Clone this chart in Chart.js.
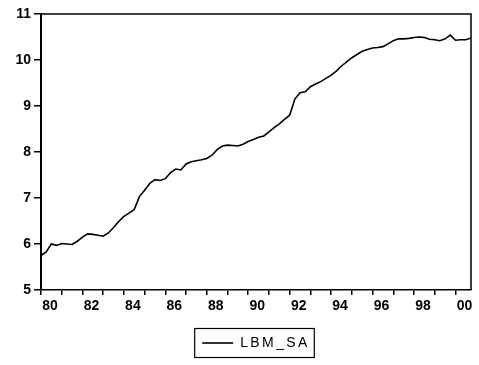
<!DOCTYPE html>
<html>
<head>
<meta charset="utf-8">
<script src="https://cdn.jsdelivr.net/npm/chart.js@4.4.0/dist/chart.umd.min.js"></script>
<style>
html,body{margin:0;padding:0;background:#fff;}
canvas{display:block;}
</style>
</head>
<body>
<canvas id="c" width="479" height="365"></canvas>
<script>
// Quarterly series LBM_SA, 1980Q1 .. 2000Q4
const startYear = 1980;
const seriesName = 'LBM_SA';
const lbmSa = [
  5.75, 5.83, 6.00, 5.97, 6.01, 6.00, 5.99, 6.06,
  6.15, 6.22, 6.21, 6.19, 6.17, 6.24, 6.36, 6.49,
  6.60, 6.67, 6.75, 7.03, 7.17, 7.32, 7.40, 7.38,
  7.42, 7.55, 7.63, 7.61, 7.74, 7.79, 7.81, 7.83,
  7.86, 7.93, 8.05, 8.13, 8.15, 8.14, 8.13, 8.17,
  8.23, 8.27, 8.32, 8.35, 8.44, 8.53, 8.61, 8.71,
  8.80, 9.15, 9.29, 9.31, 9.42, 9.48, 9.53, 9.60,
  9.67, 9.76, 9.87, 9.96, 10.05, 10.12, 10.19, 10.23,
  10.26, 10.27, 10.29, 10.35, 10.42, 10.46, 10.46, 10.47,
  10.49, 10.50, 10.49, 10.45, 10.44, 10.42, 10.46, 10.54,
  10.43, 10.44, 10.44, 10.48
];
const tickYears = [1980,1981,1982,1983,1984,1985,1986,1987,1988,1989,1990,
                   1991,1992,1993,1994,1995,1996,1997,1998,1999,2000];
const tickLabels = {1980:'80',1982:'82',1984:'84',1986:'86',1988:'88',1990:'90',
                    1992:'92',1994:'94',1996:'96',1998:'98',2000:'00'};
const yTicks = [5,6,7,8,9,10,11];

const points = lbmSa.map((v, i) => ({x: startYear + i / 4, y: v}));

const boxPlugin = {
  id: 'boxPlugin',
  afterInit(chart) {
    const lg = chart.legend;
    if (lg && !lg._wrapped) {
      const of = lg.fit, od = lg.draw;
      lg.fit = function() { const c = this.ctx; c.save(); c.letterSpacing = '2.4px'; of.apply(this, arguments); c.restore(); };
      lg.draw = function() { const c = this.ctx; c.save(); c.letterSpacing = '2.4px'; od.apply(this, arguments); c.restore(); };
      lg._wrapped = true;
    }
  },
  afterDraw(chart) {
    const {ctx, chartArea: a} = chart;
    ctx.save();
    ctx.strokeStyle = '#000';
    ctx.lineWidth = 1.5;
    ctx.beginPath();
    ctx.moveTo(a.left, a.top);
    ctx.lineTo(a.right, a.top);
    ctx.lineTo(a.right, a.bottom);
    ctx.stroke();
    const hb = chart.legend && chart.legend.legendHitBoxes && chart.legend.legendHitBoxes[0];
    if (hb) {
      ctx.lineWidth = 1.2;
      ctx.strokeRect(hb.left - 7.5, hb.top - 7.5, hb.width + 12, hb.height + 15);
    }
    ctx.restore();
  }
};

new Chart(document.getElementById('c'), {
  type: 'line',
  data: {
    datasets: [{
      label: seriesName,
      data: points,
      borderColor: '#000',
      backgroundColor: '#000',
      borderWidth: 1.6,
      pointRadius: 0,
      tension: 0,
      fill: false
    }]
  },
  options: {
    responsive: false,
    animation: false,
    devicePixelRatio: 1,
    layout: {padding: {top: 14, right: 8, bottom: 5, left: 0}},
    plugins: {
      tooltip: {enabled: false},
      legend: {
        position: 'bottom',
        fullSize: false,
        labels: {
          color: '#000',
          font: {family: 'Liberation Sans, Arial, sans-serif', size: 14},
          usePointStyle: true,
          pointStyle: 'line',
          pointStyleWidth: 31,
          padding: 10
        }
      }
    },
    scales: {
      x: {
        type: 'linear',
        min: startYear,
        max: startYear + (lbmSa.length - 1) / 4,
        afterBuildTicks(s) { s.ticks = tickYears.map(v => ({value: v})); },
        afterFit(s) { s.height = 36; },
        grid: {drawOnChartArea: false, drawTicks: true, tickLength: 5, color: '#000', lineWidth: 1.5},
        border: {color: '#000', width: 1.5},
        ticks: {
          autoSkip: false,
          maxRotation: 0,
          color: '#000',
          padding: 3,
          labelOffset: 9,
          font: {family: 'Liberation Sans, Arial, sans-serif', size: 14, weight: 'bold'},
          callback(v) { return tickLabels[v] || ''; }
        }
      },
      y: {
        min: 5,
        max: 11,
        afterBuildTicks(s) { s.ticks = yTicks.map(v => ({value: v})); },
        afterFit(s) { s.width = 41; },
        grid: {drawOnChartArea: false, drawTicks: true, tickLength: 7, color: '#000', lineWidth: 1.5},
        border: {color: '#000', width: 2},
        ticks: {
          color: '#000',
          padding: 3,
          font: {family: 'Liberation Sans, Arial, sans-serif', size: 14, weight: 'bold'},
          callback(v) { return String(v); }
        }
      }
    }
  },
  plugins: [boxPlugin]
});
</script>
</body>
</html>
